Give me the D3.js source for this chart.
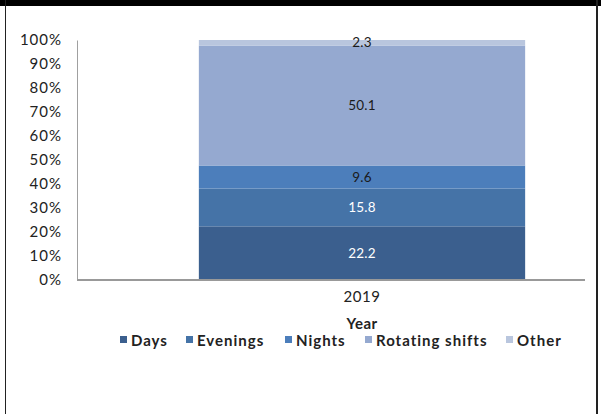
<!DOCTYPE html>
<html>
<head>
<meta charset="utf-8">
<script src="https://cdn.jsdelivr.net/npm/d3@7"></script>
<style>
  html, body { margin: 0; padding: 0; background: #fff; }
  svg { display: block; font-family: Lato, "Open Sans", sans-serif; }
</style>
</head>
<body>
<svg id="chart" width="601" height="414"></svg>
<script>
// Work schedule shares, 2019 (percent)
const categories = ["2019"];
const seriesNames = ["Days", "Evenings", "Nights", "Rotating shifts", "Other"];
const seriesValues = [[22.2], [15.8], [9.6], [50.1], [2.3]];
const seriesColors = ["#3b5f8e", "#4573a7", "#4c7ebb", "#95a9d0", "#b9c6de"];
const labelColors = ["#ffffff", "#ffffff", "#1a1a1a", "#1a1a1a", "#1a1a1a"];
const yTicks = [0, 10, 20, 30, 40, 50, 60, 70, 80, 90, 100];

const svg = d3.select("#chart");

// frame
svg.append("rect").attr("x", 0).attr("y", 0).attr("width", 601).attr("height", 6).attr("fill", "#000");
svg.append("line").attr("x1", 5.5).attr("x2", 5.5).attr("y1", 0).attr("y2", 414).attr("stroke", "#222").attr("stroke-width", 1);
svg.append("line").attr("x1", 597).attr("x2", 597).attr("y1", 0).attr("y2", 414).attr("stroke", "#222").attr("stroke-width", 2);

const plotLeft = 77, plotRight = 585, plotTop = 40, plotBottom = 279.5;

const y = d3.scaleLinear().domain([0, 100]).range([plotBottom, plotTop]);
const x = d3.scaleBand().domain(categories).range([139, 585]).paddingInner(0.155).paddingOuter(0.155);

// stacked data
const rows = categories.map((c, i) => {
  const r = { cat: c };
  seriesNames.forEach((s, j) => r[s] = seriesValues[j][i]);
  return r;
});
const stack = d3.stack().keys(seriesNames)(rows);

const g = svg.append("g");
stack.forEach((layer, j) => {
  g.selectAll(null).data(layer).enter().append("rect")
    .attr("x", d => x(d.data.cat))
    .attr("width", x.bandwidth())
    .attr("y", d => y(d[1]))
    .attr("height", d => y(d[0]) - y(d[1]))
    .attr("fill", seriesColors[j]);
});

// value labels
stack.forEach((layer, j) => {
  g.selectAll(null).data(layer).enter().append("text")
    .attr("x", d => x(d.data.cat) + x.bandwidth() / 2)
    .attr("y", d => (y(d[0]) + y(d[1])) / 2)
    .attr("dy", "0.35em")
    .attr("text-anchor", "middle")
    .attr("font-size", 13.5)
    .attr("letter-spacing", 0.2)
    .attr("fill", labelColors[j])
    .text(d => d.data[layer.key].toFixed(1));
});

// y axis
const yAxis = svg.append("g").attr("transform", `translate(${plotLeft},0)`)
  .call(d3.axisLeft(y).tickValues(yTicks).tickFormat(d => d + "%").tickSize(0).tickPadding(15));
yAxis.select(".domain").attr("stroke", "#a0a0a0").attr("stroke-width", 1);
yAxis.selectAll("text").attr("font-size", 15).attr("letter-spacing", 1).attr("fill", "#222").attr("font-family", "Lato, sans-serif");

// x axis
const xAxis = svg.append("g").attr("transform", `translate(0,${plotBottom})`)
  .call(d3.axisBottom(x).tickSize(0).tickPadding(12));
xAxis.select(".domain").remove();
svg.append("line").attr("x1", plotLeft).attr("x2", plotRight).attr("y1", plotBottom + 0.5).attr("y2", plotBottom + 0.5)
  .attr("stroke", "#999").attr("stroke-width", 2);
xAxis.selectAll("text").attr("font-size", 15).attr("letter-spacing", 0.6).attr("fill", "#222").attr("font-family", "Lato, sans-serif");

// axis title
svg.append("text").attr("x", x("2019") + x.bandwidth() / 2).attr("y", 329)
  .attr("text-anchor", "middle").attr("font-size", 15).attr("letter-spacing", 0.4)
  .attr("font-weight", "bold").attr("fill", "#222")
  .text("Year");

// legend
const legendX = [120, 186, 285, 365, 506];
const legend = svg.append("g");
seriesNames.forEach((s, j) => {
  legend.append("rect").attr("x", legendX[j]).attr("y", 336).attr("width", 7).attr("height", 7).attr("fill", seriesColors[j]);
  legend.append("text").attr("x", legendX[j] + 11).attr("y", 345.5)
    .attr("font-size", 15).attr("letter-spacing", 1).attr("font-weight", "bold").attr("fill", "#222")
    .text(s);
});
</script>
</body>
</html>
